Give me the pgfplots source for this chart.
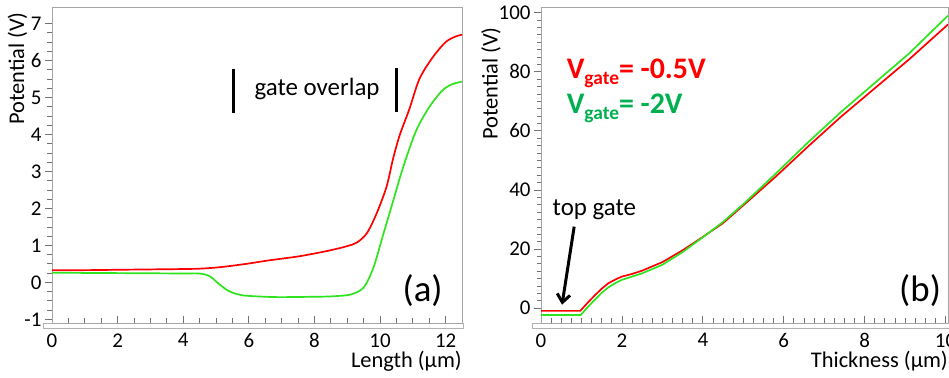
\documentclass[border=0pt]{standalone}
\usepackage{fontspec}
\setmainfont{Carlito}
\usepackage{pgfplots}
\pgfplotsset{compat=1.18}
\usetikzlibrary{arrows.meta}
\definecolor{lred}{RGB}{255,0,0}
\definecolor{lgreen}{RGB}{45,228,30}
\definecolor{tgreen}{RGB}{0,176,80}
\pgfplotsset{panel/.style={
  scale only axis, height=316bp,
  axis line style={black!35, line width=0.8bp},
  tick style={black!55, line width=0.8bp},
  tick align=outside,
  major tick length=7bp, minor tick length=4.5bp,
  major x tick style={yshift=7bp}, minor x tick style={yshift=4.5bp},
  xtick pos=bottom, ytick pos=left,
  ticklabel style={font=\fontsize{21}{21}\selectfont},
  label style={font=\fontsize{22.5}{22.5}\selectfont},
  /pgf/number format/assume math mode=true,
  clip=true,
}}
\begin{document}
\begin{tikzpicture}
% x-axis frame strips
\draw[black!30, line width=0.8bp] (43bp,49.5bp) rectangle (463.3bp,55bp);
\draw[black!30, line width=0.8bp] (532bp,49.5bp) rectangle (952bp,55bp);
% ---------- panel (a) ----------
\begin{axis}[panel, at={(52bp,55bp)}, anchor=south west, width=410bp,
  xmin=0, xmax=12.5, ymin=-1.1, ymax=7.45,
  xtick={0,2,...,12}, ytick={-1,0,...,7},
  minor x tick num=3, minor y tick num=3,
  xlabel={Length (μm)}, ylabel={Potential (V)},
  xlabel style={at={([yshift=-28bp]rel axis cs:1,0)}, anchor=north east, inner sep=0pt},
  ylabel style={at={([xshift=-34.5bp,yshift=-5bp]rel axis cs:0,1)}, anchor=east, inner sep=0pt},
]
\addplot[lred, line width=1.7bp, smooth, tension=0.5] coordinates {
(0,0.33)(1,0.33)(2,0.34)(3,0.35)(4,0.36)(4.5,0.37)(5,0.40)(5.5,0.45)(6,0.51)(6.5,0.58)(7,0.64)(7.5,0.70)(8,0.78)(8.5,0.87)(9,0.98)(9.3,1.08)(9.6,1.33)(9.9,1.87)(10.2,2.59)(10.4,3.35)(10.6,3.98)(10.9,4.7)(11.2,5.5)(11.6,6.08)(12,6.5)(12.3,6.65)(12.5,6.7)};
\addplot[lgreen, line width=1.7bp, smooth, tension=0.5] coordinates {
(0,0.26)(2,0.25)(4,0.24)(4.5,0.24)(4.8,0.17)(5.1,-0.05)(5.4,-0.24)(5.8,-0.35)(6.5,-0.39)(7,-0.40)(8,-0.39)(8.5,-0.38)(9.1,-0.33)(9.5,-0.14)(9.8,0.4)(10.1,1.3)(10.4,2.2)(10.7,3.1)(11.1,4.1)(11.5,4.74)(11.9,5.19)(12.2,5.36)(12.5,5.43)};
\draw[black, line width=3bp] (axis cs:5.53,4.58) -- (axis cs:5.53,5.78);
\draw[black, line width=3bp] (axis cs:10.5,4.6) -- (axis cs:10.5,5.8);
\node[anchor=base, font=\fontsize{25}{25}\selectfont] at (axis cs:8.08,5.05) {gate overlap};
\node[font=\fontsize{37}{37}\selectfont] at (axis cs:11.3,-0.22) {(a)};
\end{axis}
% ---------- panel (b) ----------
\begin{axis}[panel, at={(541bp,55bp)}, anchor=south west, width=407bp,
  xmin=0, xmax=10.06, ymin=-5, ymax=101.9,
  xtick={0,2,...,10}, ytick={0,20,...,100},
  minor x tick num=7, minor y tick num=7,
  xlabel={Thickness (μm)}, ylabel={Potential (V)},
  xlabel style={at={([yshift=-28bp]rel axis cs:1,0)}, anchor=north east, inner sep=0pt},
  ylabel style={at={([xshift=-50bp,yshift=-20bp]rel axis cs:0,1)}, anchor=east, inner sep=0pt},
]
\addplot[lred, line width=1.7bp] coordinates {
(0,-0.9)(0.97,-0.9)(1.15,1.8)(1.34,4.5)(1.5,6.6)(1.67,8.5)(1.85,9.8)(2.0,10.7)(2.25,11.6)(2.5,12.7)(3.0,15.6)(3.5,19.6)(4.0,24.1)(4.5,28.8)(5,34.8)(5.8,44.5)(6.6,54.7)(7.4,64.6)(8.25,74.4)(9.1,84.2)(10.06,96.0)};
\addplot[lgreen, line width=1.7bp] coordinates {
(0,-2.3)(0.98,-2.3)(1.15,0.3)(1.34,3.0)(1.5,5.2)(1.67,7.1)(1.85,8.6)(2.0,9.6)(2.25,10.7)(2.5,11.8)(3.0,14.7)(3.5,19.0)(4.0,24.0)(4.5,29.2)(5,35.2)(5.8,45.5)(6.6,56.1)(7.4,66.2)(8.25,76.2)(9.1,86.2)(10.06,99.0)};
\node[anchor=base west, text=lred, font=\fontsize{30}{30}\selectfont\bfseries] at (axis cs:0.55,77.8)
  {V\raisebox{-6bp}{\fontsize{19.5}{19.5}\selectfont gate}= -0.5V};
\node[anchor=base west, text=tgreen, font=\fontsize{30}{30}\selectfont\bfseries] at (axis cs:0.55,66)
  {V\raisebox{-6bp}{\fontsize{19.5}{19.5}\selectfont gate}= -2V};
\node[anchor=base, font=\fontsize{25}{25}\selectfont] at (axis cs:1.32,31.2) {top gate};
\draw[black, line width=3bp, -{Straight Barb[length=8bp,width=13bp]}] (axis cs:0.82,27.6) -- (axis cs:0.52,1.2);
\node[font=\fontsize{37}{37}\selectfont] at (axis cs:9.37,5.95) {(b)};
\end{axis}
\pgfresetboundingbox
\useasboundingbox (0,0) rectangle (949bp,378bp);
\end{tikzpicture}
\end{document}
